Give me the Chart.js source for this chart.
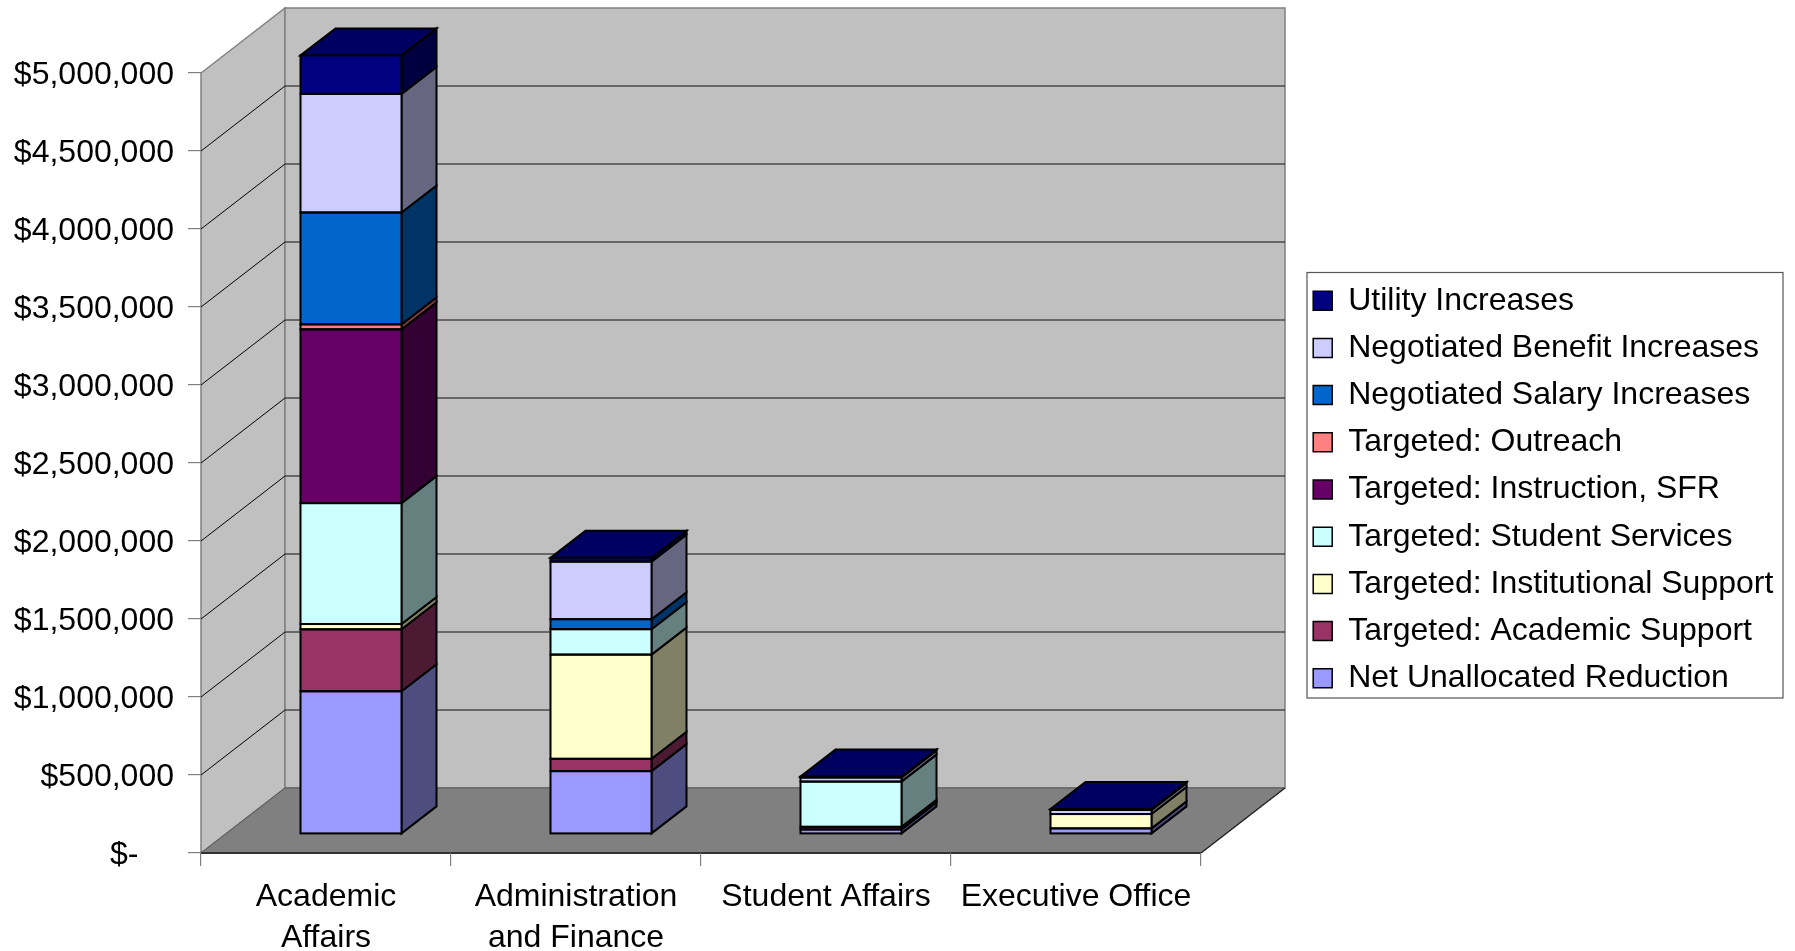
<!DOCTYPE html>
<html>
<head>
<meta charset="utf-8">
<style>
  html, body { margin: 0; padding: 0; background: #fff; }
  #wrap { width: 1795px; height: 951px; }
</style>
<script src="https://cdn.jsdelivr.net/npm/chart.js@4/dist/chart.umd.min.js"></script>
</head>
<body>
<div id="wrap"><canvas id="c" width="1795" height="951"></canvas></div>
<script>
// data
const categories = [['Academic', 'Affairs'], ['Administration', 'and Finance'], 'Student Affairs', 'Executive Office'];
const netUnallocated = [915000, 403000, 29000, 36000];
const academicSupport = [397000, 79000, 17000, 0];
const institutionalSupport = [34000, 668000, 0, 92000];
const studentServices = [775000, 163000, 290000, 0];
const instructionSfr = [1114000, 0, 0, 0];
const outreach = [32000, 0, 0, 0];
const salaryIncreases = [717000, 64000, 0, 0];
const benefitIncreases = [760000, 369000, 26000, 26000];
const utilityIncreases = [247000, 25000, 6000, 6000];
const yMax = 5000000;
const yStep = 500000;

const seriesNames = ['Net Unallocated Reduction', 'Targeted: Academic Support', 'Targeted: Institutional Support', 'Targeted: Student Services', 'Targeted: Instruction, SFR', 'Targeted: Outreach', 'Negotiated Salary Increases', 'Negotiated Benefit Increases', 'Utility Increases'];
const seriesValues = [netUnallocated, academicSupport, institutionalSupport, studentServices, instructionSfr, outreach, salaryIncreases, benefitIncreases, utilityIncreases];
const seriesColors = ['#9999ff', '#993366', '#ffffcc', '#ccffff', '#660066', '#ff8080', '#0066cc', '#ccccff', '#000080'];

// 3D look
const WALL = { dx: 84, dy: 65 };     // floor depth
const BAR_OFF = { dx: 25, dy: 19 };  // bars sit inside the floor
const BAR_D = { dx: 35, dy: 27 };    // depth of a bar
const EDGE = 2;                      // bar outline width

function poly(ctx, pts, fill, stroke, lw) {
    ctx.beginPath();
    pts.forEach((p, i) => i ? ctx.lineTo(p[0], p[1]) : ctx.moveTo(p[0], p[1]));
    ctx.closePath();
    if (fill) { ctx.fillStyle = fill; ctx.fill(); }
    if (stroke) { ctx.strokeStyle = stroke; ctx.lineWidth = lw || 1; ctx.stroke(); }
}
function line(ctx, x1, y1, x2, y2, color, lw) {
    ctx.beginPath(); ctx.moveTo(x1, y1); ctx.lineTo(x2, y2);
    ctx.strokeStyle = color; ctx.lineWidth = lw || 1; ctx.stroke();
}
function shade(hex, k) {
    const n = parseInt(hex.slice(1), 16);
    const f = (v) => Math.round(v * k);
    return `rgb(${f(n >> 16)},${f((n >> 8) & 255)},${f(n & 255)})`;
}

const wallsPlugin = {
    id: 'walls',
    afterLayout(chart) {
        // legend sits outside the chart area, on its own place
        const lg = chart.legend;
        lg.left = 1298; lg.right = 1298 + lg.width;
        lg.top = 269.5; lg.bottom = 800;
    },
    beforeDraw(chart) {
        const { ctx, chartArea: a, scales: { y } } = chart;
        const d = WALL;
        ctx.save();
        // left wall, back wall, floor
        poly(ctx, [[a.left, a.bottom], [a.left, a.top], [a.left + d.dx, a.top - d.dy], [a.left + d.dx, a.bottom - d.dy]], '#c0c0c0', '#808080', 1.5);
        poly(ctx, [[a.left + d.dx, a.top - d.dy], [a.right + d.dx, a.top - d.dy], [a.right + d.dx, a.bottom - d.dy], [a.left + d.dx, a.bottom - d.dy]], '#c0c0c0', '#808080', 1.5);
        // grid lines on the walls
        y.ticks.forEach((t) => {
            if (t.value === 0 || t.value === yMax) return;
            const py = y.getPixelForValue(t.value);
            line(ctx, a.left, py, a.left + d.dx, py - d.dy, '#000', 1);
            line(ctx, a.left + d.dx, py - d.dy, a.right + d.dx, py - d.dy, '#111', 1);
        });
        poly(ctx, [[a.left, a.bottom], [a.left + d.dx, a.bottom - d.dy], [a.right + d.dx, a.bottom - d.dy], [a.right, a.bottom]], '#808080', null);
        line(ctx, a.left + d.dx, a.bottom - d.dy, a.right + d.dx, a.bottom - d.dy, '#666', 1.5);
        line(ctx, a.right, a.bottom, a.right + d.dx, a.bottom - d.dy, '#222', 1.5);
        line(ctx, a.left, a.bottom, a.left + d.dx, a.bottom - d.dy, '#555', 1);
        line(ctx, a.left, a.bottom, a.right, a.bottom, '#333', 2);
        // legend frame
        ctx.fillStyle = '#fff';
        ctx.fillRect(1307, 272.5, 476, 425.5);
        ctx.strokeStyle = '#555'; ctx.lineWidth = 1.2;
        ctx.strokeRect(1307, 272.5, 476, 425.5);
        ctx.restore();
    },
    beforeDatasetsDraw(chart) {
        const { ctx } = chart;
        ctx.save();
        ctx.translate(BAR_OFF.dx, -BAR_OFF.dy);
        const metas = chart.getSortedVisibleDatasetMetas();
        categories.forEach((_, col) => {
            let last = null;
            metas.forEach((meta) => {
                const p = meta.data[col].getProps(['x', 'y', 'base', 'width']);
                if (seriesValues[meta.index][col] === 0) return;
                const r = p.x + p.width / 2;
                poly(ctx, [[r, p.y], [r + BAR_D.dx, p.y - BAR_D.dy], [r + BAR_D.dx, p.base - BAR_D.dy], [r, p.base]],
                    shade(seriesColors[meta.index], 0.5), '#000', EDGE);
                last = { p, i: meta.index };
            });
            if (last) {
                const { p, i } = last;
                const l = p.x - p.width / 2, r = p.x + p.width / 2;
                poly(ctx, [[l, p.y], [l + BAR_D.dx, p.y - BAR_D.dy], [r + BAR_D.dx, p.y - BAR_D.dy], [r, p.y]],
                    shade(seriesColors[i], 0.75), '#000', EDGE);
            }
        });
    },
    afterDatasetsDraw(chart) {
        const { ctx } = chart;
        // outlines centred on the segment edges, thin segments keep their colour
        chart.getSortedVisibleDatasetMetas().forEach((meta) => {
            meta.data.forEach((bar, col) => {
                if (seriesValues[meta.index][col] === 0) return;
                const p = bar.getProps(['x', 'y', 'base', 'width']);
                ctx.strokeStyle = '#000';
                ctx.lineWidth = EDGE;
                ctx.strokeRect(p.x - p.width / 2, p.y, p.width, p.base - p.y);
            });
        });
        ctx.restore();
    }
};

new Chart(document.getElementById('c'), {
    type: 'bar',
    data: {
        labels: categories,
        datasets: seriesNames.map((name, i) => ({
            label: name,
            data: seriesValues[i],
            backgroundColor: seriesColors[i],
            borderWidth: 0,
            barPercentage: 0.404,
            categoryPercentage: 1
        }))
    },
    options: {
        responsive: false,
        animation: false,
        layout: { padding: { top: 73, right: 594, bottom: 0, left: 0 } },
        scales: {
            x: {
                stacked: true,
                afterFit(s) { s.height = 98; },
                grid: { drawOnChartArea: false, color: '#808080', tickLength: 13, lineWidth: 1.2 },
                border: { display: false },
                ticks: { color: '#000', font: { family: '"Liberation Sans"', size: 32, lineHeight: 1.27 }, padding: 11, maxRotation: 0, autoSkip: false }
            },
            y: {
                stacked: true,
                min: 0,
                max: yMax,
                afterFit(s) { s.width = 201; },
                grid: { drawOnChartArea: false, color: '#808080', tickLength: 13, lineWidth: 1.2 },
                border: { display: false },
                ticks: {
                    stepSize: yStep,
                    color: '#000',
                    font: { family: '"Liberation Sans"', size: 32 },
                    padding: 14,
                    labelOffset: 2.5,
                    callback: (v) => v === 0 ? '$-    ' : '$' + v.toLocaleString('en-US')
                }
            }
        },
        plugins: {
            tooltip: { enabled: false },
            legend: {
                position: 'chartArea',
                align: 'start',
                reverse: true,
                labels: {
                    color: '#000',
                    boxWidth: 19,
                    boxHeight: 19,
                    padding: 15.2,
                    font: { family: '"Liberation Sans"', size: 32 },
                    generateLabels: (chart) => Chart.defaults.plugins.legend.labels.generateLabels(chart)
                        .map((item) => ({ ...item, strokeStyle: '#000', lineWidth: 1.5 }))
                }
            }
        }
    },
    plugins: [wallsPlugin]
});
</script>
</body>
</html>
